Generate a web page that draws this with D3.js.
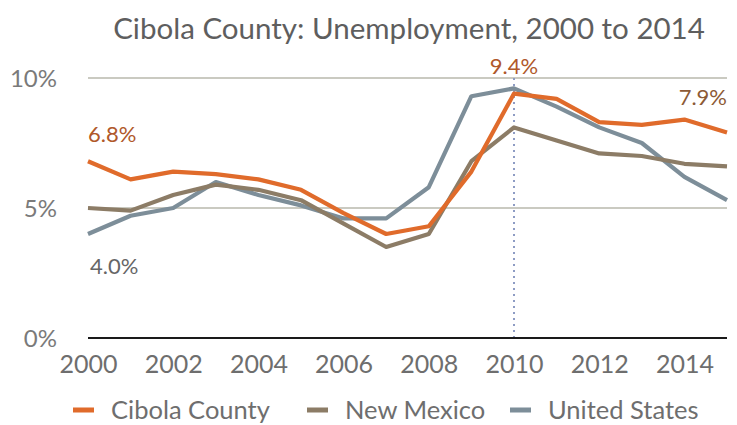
<!DOCTYPE html>
<html>
<head>
<meta charset="utf-8">
<script src="https://cdn.jsdelivr.net/npm/d3@7"></script>
<style>
  html, body { margin: 0; padding: 0; background: #fff; }
  svg { display: block; font-family: Lato, "Open Sans", sans-serif; }
</style>
</head>
<body>
<svg id="chart" width="737" height="425"></svg>
<script>
// ---- data ----
const years = [2000,2001,2002,2003,2004,2005,2006,2007,2008,2009,2010,2011,2012,2013,2014,2015];
const cibola     = [6.8,6.1,6.4,6.3,6.1,5.7,4.8,4.0,4.3,6.4,9.4,9.2,8.3,8.2,8.4,7.9];
const newMexico  = [5.0,4.9,5.5,5.9,5.7,5.3,4.4,3.5,4.0,6.8,8.1,7.6,7.1,7.0,6.7,6.6];
const unitedStates = [4.0,4.7,5.0,6.0,5.5,5.1,4.6,4.6,5.8,9.3,9.6,8.9,8.1,7.5,6.2,5.3];
const seriesNames = ["Cibola County","New Mexico","United States"];
const xTicks = [2000,2002,2004,2006,2008,2010,2012,2014];
const yTicks = [0,5,10];
const markerYear = 2010;
const titleText = "Cibola County: Unemployment, 2000 to 2014";

const colors = {"Cibola County":"#E06B2B","New Mexico":"#8C7C66","United States":"#7D8E99"};
const seriesData = {"Cibola County":cibola,"New Mexico":newMexico,"United States":unitedStates};

const svg = d3.select("#chart");
const x = d3.scaleLinear().domain([2000, 2015]).range([88, 727]);
const y = d3.scaleLinear().domain([0, 10]).range([338, 78]);

// title
const title = svg.append("text")
  .attr("x", 409).attr("y", 39)
  .attr("text-anchor","middle")
  .attr("fill","#5e5e5e")
  .style("font-size","29px")
  .text(titleText);
{
  const w = title.node().getComputedTextLength();
  const target = 592;
  title.style("font-size", (29 * target / w).toFixed(2) + "px");
}

// gridlines (5%, 10%)
svg.append("g").selectAll("line")
  .data(yTicks.filter(d => d > 0))
  .join("line")
  .attr("x1", x(2000)).attr("x2", x(2015))
  .attr("y1", d => y(d)).attr("y2", d => y(d))
  .attr("stroke","#B9B9AC").attr("stroke-width",1.6);

// y axis labels
const yAxis = d3.axisLeft(y).tickValues(yTicks).tickFormat(d => d + "%").tickSize(0).tickPadding(0);
svg.append("g").attr("transform","translate(57,0)").call(yAxis)
  .call(g => g.select(".domain").remove())
  .call(g => g.selectAll("text").attr("fill","#7a7a7a").style("font-size","24px").style("font-family","Lato, sans-serif").attr("dy","0.35em"));

// vertical dotted marker
svg.append("line")
  .attr("x1", x(markerYear)).attr("x2", x(markerYear))
  .attr("y1", y(10)).attr("y2", y(0))
  .attr("stroke","#8E9CC4").attr("stroke-width",2)
  .attr("stroke-dasharray","2,4");

// zero baseline
svg.append("line")
  .attr("x1", x(2000)).attr("x2", x(2015))
  .attr("y1", y(0)).attr("y2", y(0))
  .attr("stroke","#1a1a1a").attr("stroke-width",2);

// x axis labels
const xAxis = d3.axisBottom(x).tickValues(xTicks).tickFormat(d3.format("d")).tickSize(0).tickPadding(0);
svg.append("g").attr("transform","translate(0,352)").call(xAxis)
  .call(g => g.select(".domain").remove())
  .call(g => g.selectAll("text").attr("fill","#6e6e6e").style("font-size","25px").style("font-family","Lato, sans-serif").attr("dy","0.85em"));

// lines
const line = d3.line().x((d,i) => x(years[i])).y(d => y(d));
["United States","New Mexico","Cibola County"].forEach(name => {
  svg.append("path")
    .datum(seriesData[name])
    .attr("fill","none")
    .attr("stroke", colors[name])
    .attr("stroke-width",4.2)
    .attr("stroke-linejoin","round")
    .attr("d", line);
});

// data labels
const labels = [
  {series:"Cibola County", year:2000, dx: 0,  dy:-19, anchor:"start", color:"#B0582A"},
  {series:"United States", year:2000, dx: 2,  dy: 40, anchor:"start", color:"#666666"},
  {series:"Cibola County", year:2010, dx: 0,  dy:-20, anchor:"middle", color:"#B0582A"},
  {series:"Cibola County", year:2015, dx: 0,  dy:-28, anchor:"end", color:"#8C5A35"}
];
svg.append("g").selectAll("text")
  .data(labels).join("text")
  .attr("x", d => x(d.year) + d.dx)
  .attr("y", d => y(seriesData[d.series][years.indexOf(d.year)]) + d.dy)
  .attr("text-anchor", d => d.anchor)
  .attr("fill", d => d.color)
  .style("font-size","22px")
  .text(d => d3.format(".1f")(seriesData[d.series][years.indexOf(d.year)]) + "%");

// legend
const legendX = [73, 307, 510];
const lg = svg.append("g").selectAll("g").data(seriesNames).join("g")
  .attr("transform", (d,i) => `translate(${legendX[i]},410)`);
lg.append("rect").attr("x",0).attr("y",-2.5).attr("width",21).attr("height",5).attr("fill", d => colors[d]);
lg.append("text").attr("x",38).attr("y",9).attr("fill","#6e6e6e").style("font-size","25.5px").text(d => d);
</script>
</body>
</html>
